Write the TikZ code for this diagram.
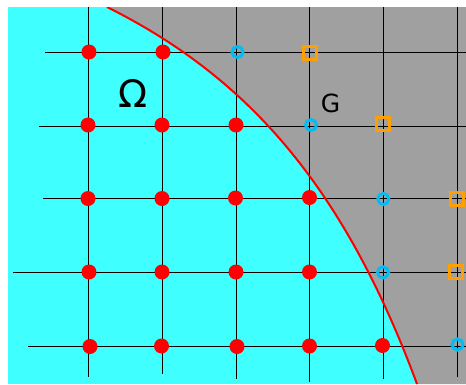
\documentclass[tikz,border=0pt]{standalone}
\usepackage{fontspec}
\newfontfamily\dejavu{DejaVu Sans}
\definecolor{omegacyan}{RGB}{64,255,255}
\definecolor{ggray}{RGB}{160,160,160}
\definecolor{ptblue}{RGB}{0,190,245}
\definecolor{ptorange}{RGB}{255,160,0}
\begin{document}
\begin{tikzpicture}[x=1pt,y=-1pt,
  gridline/.style={black, line width=1pt},
  inpt/.style={circle, fill=red, minimum size=15pt, inner sep=0pt},
  bdpt/.style={circle, draw=ptblue, line width=3pt, minimum size=11pt, inner sep=0pt},
  expt/.style={rectangle, draw=ptorange, line width=3pt, minimum size=13pt, inner sep=0pt},
  boundary/.style={red, line width=2pt}]
\useasboundingbox (0,0) rectangle (466,384);
\fill[omegacyan] (8,7) rectangle (466,384);
\begin{scope}
\clip (8,7) rectangle (466,384);
\fill[ggray] (107,7) .. controls (243.5,75.2) and (341.8,180.9) .. (417,384) -- (466,384) -- (466,7) -- cycle;
% grid lines
\draw[gridline] (45,52) -- (466,52);
\draw[gridline] (39,126) -- (466,126);
\draw[gridline] (43,198.5) -- (466,198.5);
\draw[gridline] (13,272) -- (466,272);
\draw[gridline] (28,346) -- (466,346);
\draw[gridline] (88,7) -- (88,377);
\draw[gridline] (162,7) -- (162,374);
\draw[gridline] (236,7) -- (236,379);
\draw[gridline] (309.5,7) -- (309.5,382);
\draw[gridline] (383,7) -- (383,379);
\draw[gridline] (457,7) -- (457,377);
\draw[boundary] (107,7) .. controls (243.5,75.2) and (341.8,180.9) .. (417,384);
\end{scope}
% interior points
\node[inpt] (i11) at (89,52) {};
\node[inpt] (i12) at (163,52) {};
\node[inpt] (i21) at (88,125) {};
\node[inpt] (i22) at (162,125) {};
\node[inpt] (i23) at (236,125) {};
\node[inpt] (i31) at (88,198.5) {};
\node[inpt] (i32) at (162,198.5) {};
\node[inpt] (i33) at (235.5,198) {};
\node[inpt] (i34) at (309.5,197.5) {};
\node[inpt] (i41) at (89,272) {};
\node[inpt] (i42) at (162,272) {};
\node[inpt] (i43) at (236,272) {};
\node[inpt] (i44) at (309.5,272) {};
\node[inpt] (i51) at (90,346.5) {};
\node[inpt] (i52) at (161.5,346) {};
\node[inpt] (i53) at (237,346.5) {};
\node[inpt] (i54) at (309.5,346) {};
\node[inpt] (i55) at (382.5,345.5) {};
% boundary-adjacent points
\node[bdpt] (b1) at (237.5,52) {};
\node[bdpt] (b2) at (311,125) {};
\node[bdpt] (b3) at (383.3,199) {};
\node[bdpt] (b4) at (383,272.3) {};
\node[bdpt] (b5) at (457.5,344.5) {};
% exterior points
\node[expt] (e1) at (310,52.5) {};
\node[expt] (e2) at (383.3,124.3) {};
\node[expt] (e3) at (457,199) {};
\node[expt] (e4) at (456.3,271.7) {};
% labels
\node (omega) at (133.5,93) {\dejavu\fontsize{38}{38}\selectfont Ω};
\node (glabel) at (330.5,103.3) {\dejavu\fontsize{25}{25}\selectfont G};
\end{tikzpicture}
\end{document}
